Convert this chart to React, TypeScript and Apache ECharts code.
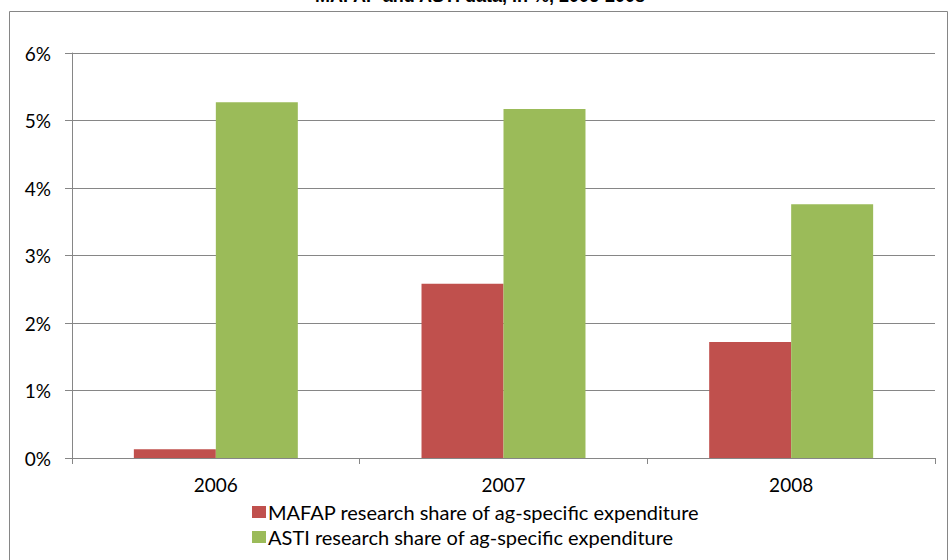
import React, { useEffect, useRef } from "react";
import * as echarts from "echarts";

const categories = ["2006", "2007", "2008"];
const mafap = [0.13, 2.58, 1.72];
const asti = [5.27, 5.17, 3.76];
const seriesNames = [
  "MAFAP research share of ag-specific expenditure",
  "ASTI research share of ag-specific expenditure",
];
const titleText = "MAFAP and ASTI data, in %, 2006-2008";

export default function App() {
  const ref = useRef<HTMLDivElement>(null);
  useEffect(() => {
    document.body.style.margin = "0";
    const chart = echarts.init(ref.current!, null, { renderer: "svg" });
    const font = "Lato, 'Open Sans', sans-serif";
    chart.setOption({
      animation: false,
      backgroundColor: "#fff",
      graphic: [
        {
          type: "rect",
          shape: { x: 9.5, y: 11.5, width: 938, height: 560 },
          style: { fill: "none", stroke: "#868686", lineWidth: 1 },
          silent: true,
        },
        {
          type: "text",
          x: 480,
          y: 5,
          style: {
            text: titleText,
            fontFamily: "'Liberation Sans', Arial, sans-serif",
            fontWeight: "bold",
            fontSize: 18,
            fill: "#000",
            align: "center",
            verticalAlign: "bottom",
          },
        },
      ],
      grid: { left: 72, right: 14, top: 53, bottom: 102, containLabel: false },
      legend: {
        orient: "vertical",
        left: 247,
        top: 497,
        itemWidth: 14,
        itemHeight: 12,
        itemGap: 5,
        icon: "rect",
        textStyle: { fontFamily: font, fontSize: 20, color: "#000", padding: [0, 0, 0, -3] },
        data: seriesNames,
      },
      xAxis: {
        type: "category",
        data: categories,
        axisLine: { lineStyle: { color: "#868686" } },
        axisTick: { show: true, length: 6, lineStyle: { color: "#868686" } },
        axisLabel: { fontFamily: font, fontSize: 19, color: "#000", margin: 17 },
      },
      yAxis: {
        type: "value",
        min: 0,
        max: 6,
        interval: 1,
        axisLine: { show: true, lineStyle: { color: "#868686" } },
        axisTick: { show: true, length: 7, lineStyle: { color: "#868686" } },
        splitLine: { lineStyle: { color: "#868686" } },
        axisLabel: {
          fontFamily: font,
          fontSize: 19,
          color: "#000",
          margin: 21,
          formatter: (v: number) => v + "%",
        },
      },
      series: [
        {
          name: seriesNames[0],
          type: "bar",
          data: mafap,
          itemStyle: { color: "#C0504D" },
          barGap: "0%",
          barCategoryGap: "43%",
        },
        {
          name: seriesNames[1],
          type: "bar",
          data: asti,
          itemStyle: { color: "#9BBB59" },
          barGap: "0%",
          barCategoryGap: "43%",
        },
      ],
    });
    return () => chart.dispose();
  }, []);
  return <div ref={ref} style={{ width: 949, height: 560 }} />;
}
